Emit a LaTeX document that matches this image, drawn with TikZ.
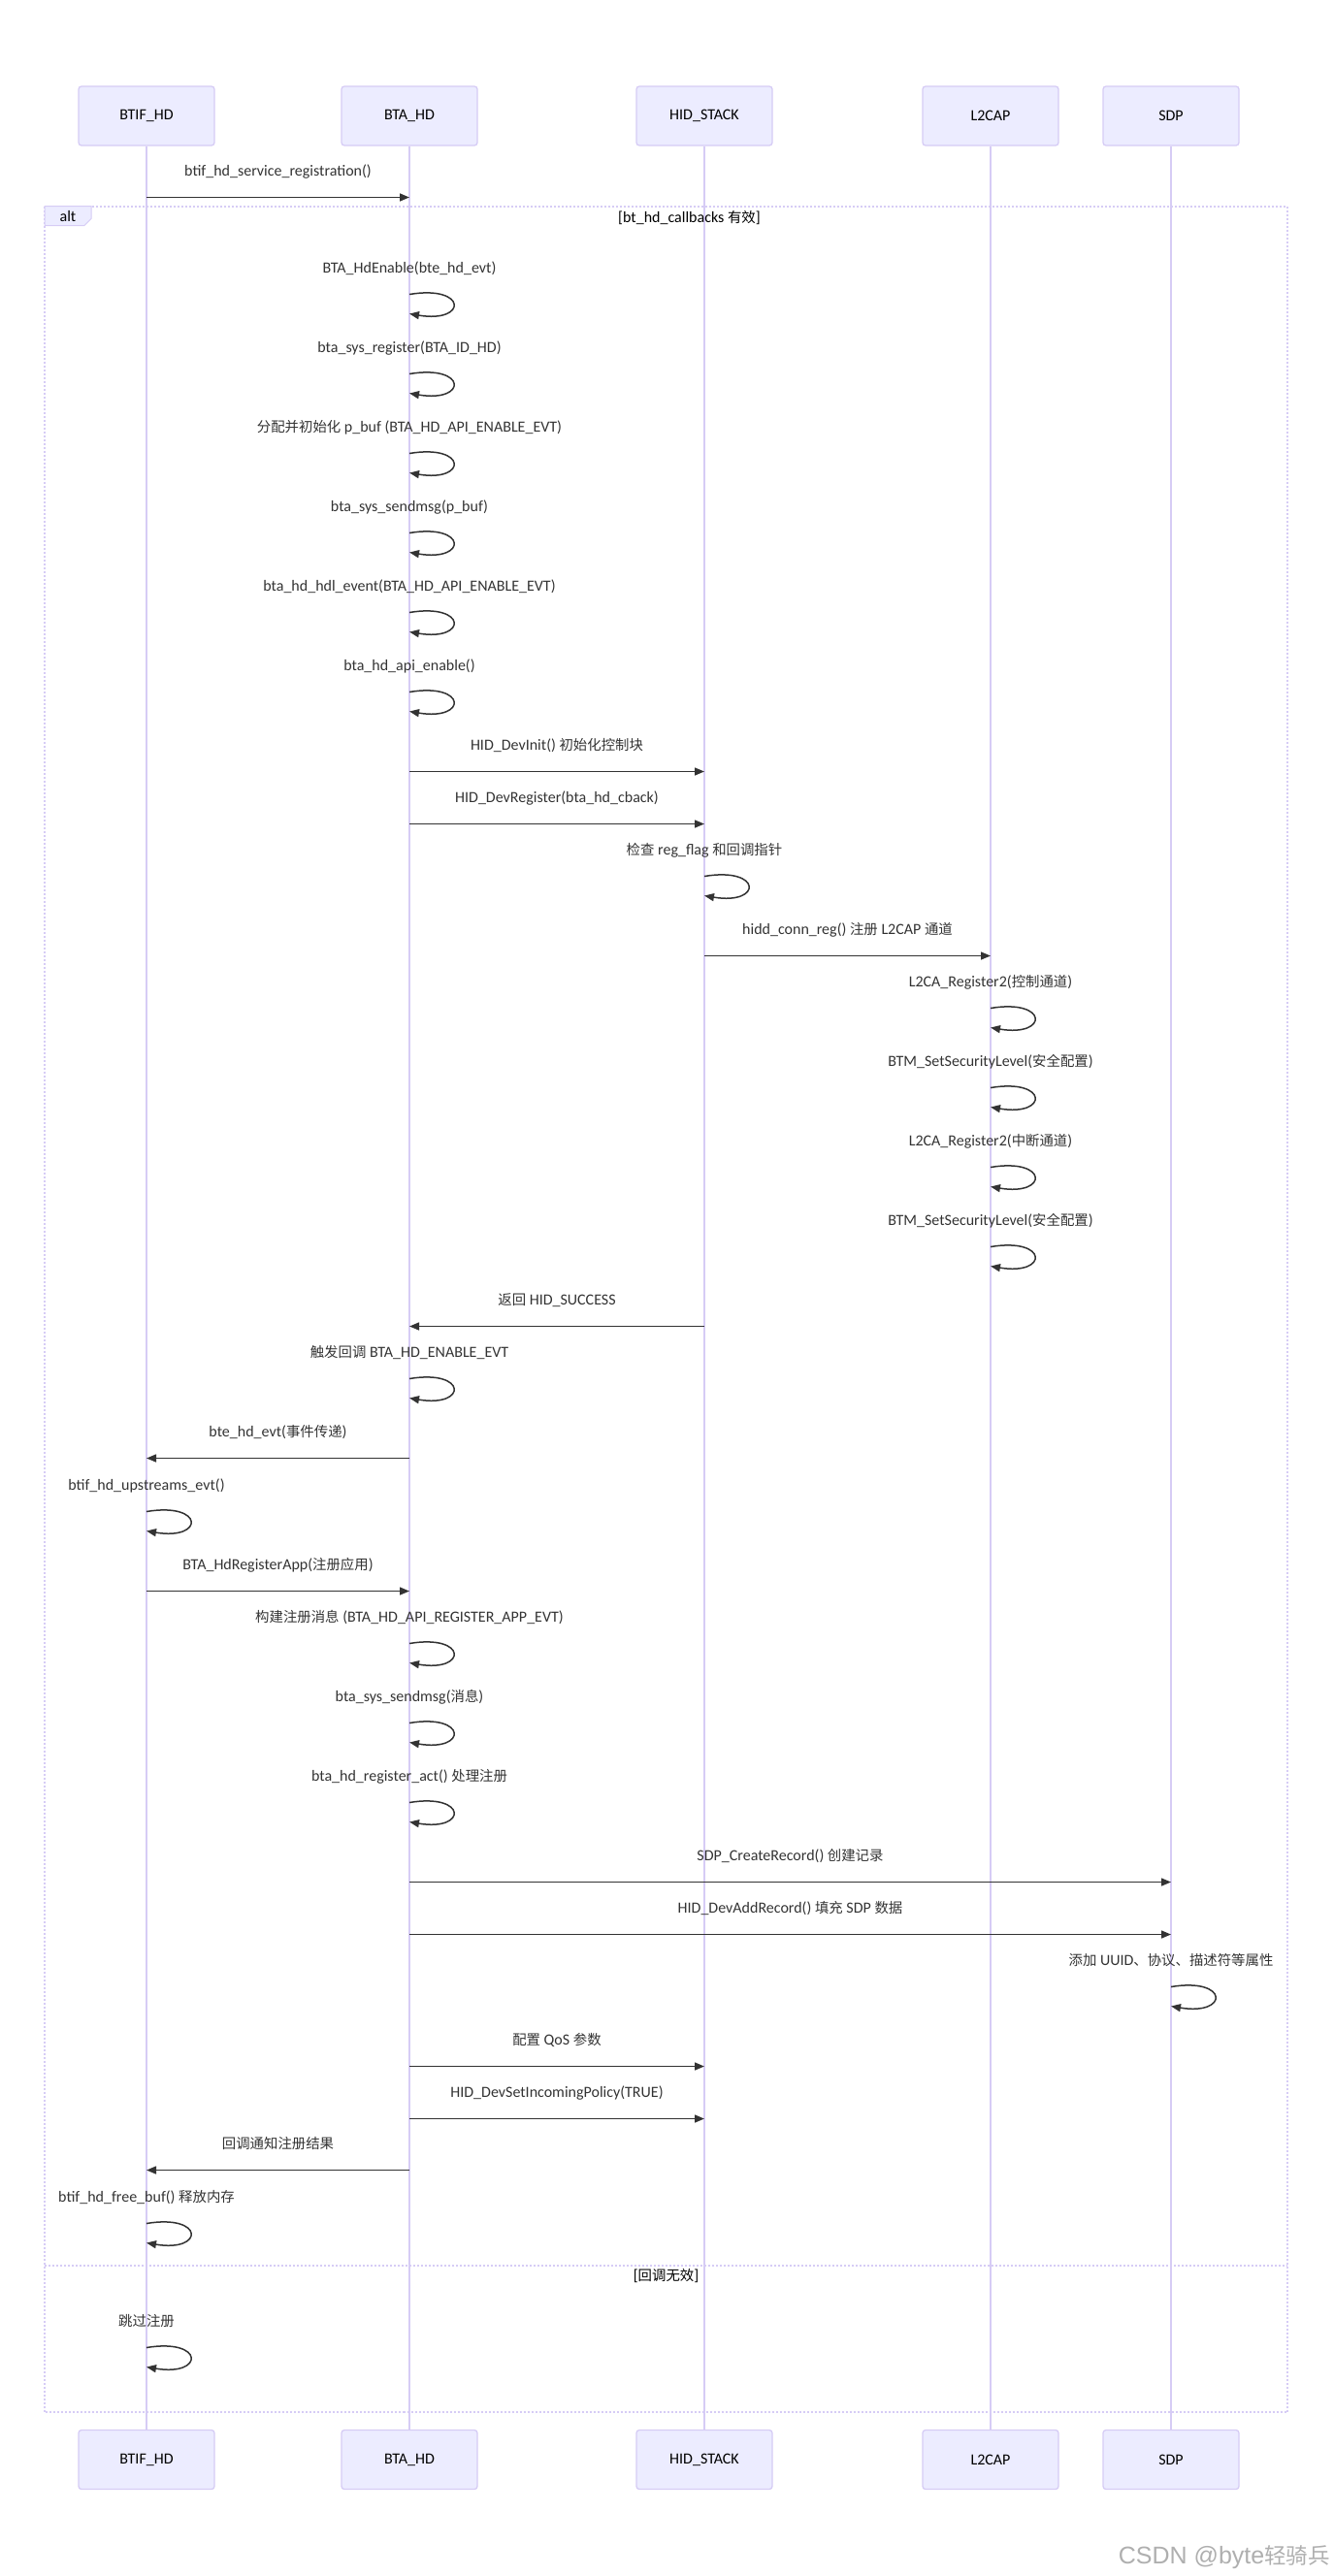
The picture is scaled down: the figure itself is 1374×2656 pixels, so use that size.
\documentclass[tikz,border=0pt]{standalone}
\usepackage{fontspec}
\setmainfont{Carlito}
\newfontfamily\cjk{Noto Sans CJK SC}[Scale=0.9]
\newfontfamily\wmfont{Liberation Sans}
\usepackage{tikz}
\usetikzlibrary{calc,arrows.meta}
\definecolor{actorfill}{HTML}{ECECFF}
\definecolor{actorline}{RGB}{214,204,245}
\definecolor{msgcolor}{HTML}{333333}
\definecolor{wmgray}{RGB}{175,175,175}
\newcommand\zh[1]{{\cjk #1}}
\def\callmsg(#1)(#2:#3:#4)#5% Syntax: (name) (from:to:text y) {text}
{ \node[msgtext] (#1) at ($(#2 |- 0,#4)!0.5!(#3 |- 0,#4)$) {#5};
  \draw[msgline] (#2 |- 0,#4+26.5) -- (#3 |- 0,#4+26.5); }
\def\selfmsg(#1)(#2:#3)#4% Syntax: (name) (lifeline:text y) {text}
{ \node[msgtext] (#1) at (#2 |- 0,#3) {#4};
  \draw[msgline] (#2 |- 0,#3+26.5) .. controls +(60,-10) and +(60,10) .. (#2 |- 0,#3+46.5); }

\begin{document}
\begin{tikzpicture}[x=1pt,y=-1pt,
	actor/.style={draw=actorline,fill=actorfill,line width=1.3pt,rounded corners=3pt,minimum width=140pt,minimum height=61pt,font=\fontsize{16}{19}\selectfont},
	lifeline/.style={draw=actorline,line width=1.3pt},
	msgtext/.style={text=msgcolor,font=\fontsize{16}{19}\selectfont,inner sep=0pt,text height=11pt,text depth=3pt},
	msgline/.style={draw=msgcolor,line width=1.5pt,-{Triangle[length=10pt,width=8pt]}},
	altframe/.style={draw=actorline,line width=2pt,dash pattern=on 2pt off 2pt}]
	\useasboundingbox (0,0) rectangle (1374,2656);

	%participants, top and bottom
	\node[actor] (btif)  at (151,119.5)  {BTIF\_HD};
	\node[actor] (bta)   at (422,119.5)  {BTA\_HD};
	\node[actor] (hid)   at (726,119.5)  {HID\_STACK};
	\node[actor] (l2cap) at (1021,119.5) {L2CAP};
	\node[actor] (sdp)   at (1207,119.5) {SDP};
	\node[actor] (btifB)  at (151,2536)  {BTIF\_HD};
	\node[actor] (btaB)   at (422,2536)  {BTA\_HD};
	\node[actor] (hidB)   at (726,2536)  {HID\_STACK};
	\node[actor] (l2capB) at (1021,2536) {L2CAP};
	\node[actor] (sdpB)   at (1207,2536) {SDP};

	%lifelines
	\draw[lifeline] (btif) -- (btifB);
	\draw[lifeline] (bta) -- (btaB);
	\draw[lifeline] (hid) -- (hidB);
	\draw[lifeline] (l2cap) -- (l2capB);
	\draw[lifeline] (sdp) -- (sdpB);

	%alt frame
	\draw[altframe] (46,212.5) rectangle (1327,2487);
	\draw[altframe] (46,2336) -- (1327,2336);	%else
	\draw[fill=actorfill,draw=actorline,line width=1pt] (46,212.5) -- (94,212.5) -- (94,225.5) -- (87,232.5) -- (46,232.5) -- cycle;
	\node[msgtext,text=black] (altlabel) at (70,224) {alt};
	\node[msgtext,text=black] (altyes) at (710.5,225) {[bt\_hd\_callbacks \zh{有效}]};
	\node[msgtext,text=black] (altno) at (686.5,2347) {[\zh{回调无效}]};

	%messages
	\callmsg(m1)(btif:bta:177){btif\_hd\_service\_registration()}
	\selfmsg(m2)(bta:277){BTA\_HdEnable(bte\_hd\_evt)}
	\selfmsg(m3)(bta:359){bta\_sys\_register(BTA\_ID\_HD)}
	\selfmsg(m4)(bta:441){\zh{分配并初始化} p\_buf (BTA\_HD\_API\_ENABLE\_EVT)}
	\selfmsg(m5)(bta:523){bta\_sys\_sendmsg(p\_buf)}
	\selfmsg(m6)(bta:605){bta\_hd\_hdl\_event(BTA\_HD\_API\_ENABLE\_EVT)}
	\selfmsg(m7)(bta:687){bta\_hd\_api\_enable()}
	\callmsg(m8)(bta:hid:769){HID\_DevInit() \zh{初始化控制块}}
	\callmsg(m9)(bta:hid:823){HID\_DevRegister(bta\_hd\_cback)}
	\selfmsg(m10)(hid:877){\zh{检查} reg\_flag \zh{和回调指针}}
	\callmsg(m11)(hid:l2cap:959){hidd\_conn\_reg() \zh{注册} L2CAP \zh{通道}}
	\selfmsg(m12)(l2cap:1013){L2CA\_Register2(\zh{控制通道})}
	\selfmsg(m13)(l2cap:1095){BTM\_SetSecurityLevel(\zh{安全配置})}
	\selfmsg(m14)(l2cap:1177){L2CA\_Register2(\zh{中断通道})}
	\selfmsg(m15)(l2cap:1259){BTM\_SetSecurityLevel(\zh{安全配置})}
	\callmsg(m16)(hid:bta:1341){\zh{返回} HID\_SUCCESS}
	\selfmsg(m17)(bta:1395){\zh{触发回调} BTA\_HD\_ENABLE\_EVT}
	\callmsg(m18)(bta:btif:1477){bte\_hd\_evt(\zh{事件传递})}
	\selfmsg(m19)(btif:1532){btif\_hd\_upstreams\_evt()}
	\callmsg(m20)(btif:bta:1614){BTA\_HdRegisterApp(\zh{注册应用})}
	\selfmsg(m21)(bta:1668){\zh{构建注册消息} (BTA\_HD\_API\_REGISTER\_APP\_EVT)}
	\selfmsg(m22)(bta:1750){bta\_sys\_sendmsg(\zh{消息})}
	\selfmsg(m23)(bta:1832){bta\_hd\_register\_act() \zh{处理注册}}
	\callmsg(m24)(bta:sdp:1914){SDP\_CreateRecord() \zh{创建记录}}
	\callmsg(m25)(bta:sdp:1968){HID\_DevAddRecord() \zh{填充} SDP \zh{数据}}
	\selfmsg(m26)(sdp:2022){\zh{添加} UUID\zh{、协议、描述符等属性}}
	\callmsg(m27)(bta:hid:2104){\zh{配置} QoS \zh{参数}}
	\callmsg(m28)(bta:hid:2158){HID\_DevSetIncomingPolicy(TRUE)}
	\callmsg(m29)(bta:btif:2211){\zh{回调通知注册结果}}
	\selfmsg(m30)(btif:2266){btif\_hd\_free\_buf() \zh{释放内存}}
	\selfmsg(m31)(btif:2394){\zh{跳过注册}}

	%watermark
	\node[anchor=base east,inner sep=0pt,text=wmgray,font=\wmfont\fontsize{25}{30}\selectfont] (wm) at (1371,2643) {CSDN @byte\zh{轻骑兵}};
\end{tikzpicture}
\end{document}
